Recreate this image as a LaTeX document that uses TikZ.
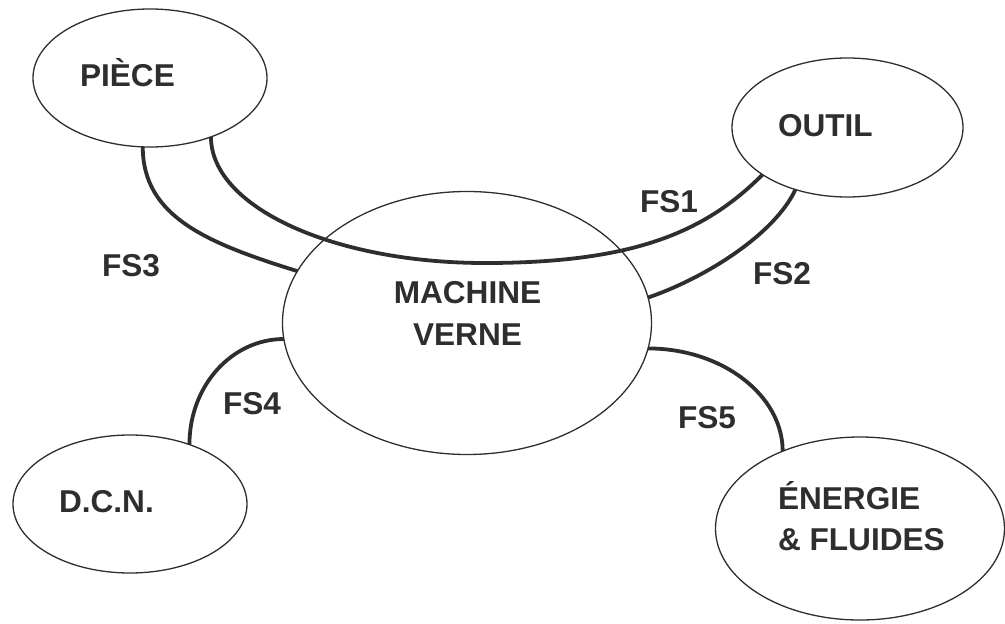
\documentclass[tikz,border=0pt]{standalone}
\usepackage{fontspec}
\setmainfont{Liberation Sans}
\usetikzlibrary{shapes.geometric}
\definecolor{ink}{HTML}{2E2E2E}
\begin{document}
\begin{tikzpicture}[x=1pt,y=-1pt,
  blob/.style={ellipse, draw=ink, line width=1.3pt, inner sep=0pt, outer sep=0pt},
  lbl/.style={inner sep=0pt, outer sep=0pt, text=ink, font=\fontsize{31.6}{41}\selectfont\bfseries},
  conn/.style={draw=ink, line width=3.8pt}]
\useasboundingbox (0,0) rectangle (1005,624);
% ellipses
\node[blob, minimum width=234pt, minimum height=138pt] (piece) at (150,78) {};
\node[blob, minimum width=231pt, minimum height=139pt] (outil) at (847.5,127.5) {};
\node[blob, minimum width=369pt, minimum height=263pt] (machine) at (467,323) {};
\node[blob, minimum width=234pt, minimum height=138pt] (dcn) at (130,504) {};
\node[blob, minimum width=289pt, minimum height=183pt] (energie) at (860,528.5) {};
% texts
\node[lbl, anchor=base west] (tpiece) at (80,86) {PIÈCE};
\node[lbl, anchor=base west] (toutil) at (778,136) {OUTIL};
\node[lbl, anchor=base] (tmach1) at (467.5,303) {MACHINE};
\node[lbl, anchor=base] (tmach2) at (467.5,345) {VERNE};
\node[lbl, anchor=base west] (tdcn) at (59,512) {D.C.N.};
\node[lbl, anchor=base west] (tener1) at (778,509) {ÉNERGIE};
\node[lbl, anchor=base west] (tener2) at (778,550) {\& FLUIDES};
% connectors
\coordinate (fs1low) at (485,263);
\draw[conn] (piece.-44.6) .. controls +(0,70) and +(-152,0) .. (fs1low)
  .. controls +(150,0) and +(-57,57) .. (outil.209.3);
\draw[conn] (outil.230.4) .. controls +(-21,45) and +(57,-19.5) .. (machine.8);
\draw[conn] (piece.-96) .. controls +(0,70) and +(-90,-28) .. (machine.163.5);
\draw[conn] (machine.-175.6) .. controls +(-52,0) and +(0,-59) .. (dcn.45.3);
\draw[conn] (machine.-8.5) .. controls +(74,0) and +(0,-56) .. (energie.135.3);
% connector labels
\node[lbl, anchor=base west] (fs1) at (640,212.7) {FS1};
\node[lbl, anchor=base west] (fs2) at (753,284) {FS2};
\node[lbl, anchor=base west] (fs3) at (102,276) {FS3};
\node[lbl, anchor=base west] (fs4) at (223,414) {FS4};
\node[lbl, anchor=base west] (fs5) at (678,428.3) {FS5};
\end{tikzpicture}
\end{document}
